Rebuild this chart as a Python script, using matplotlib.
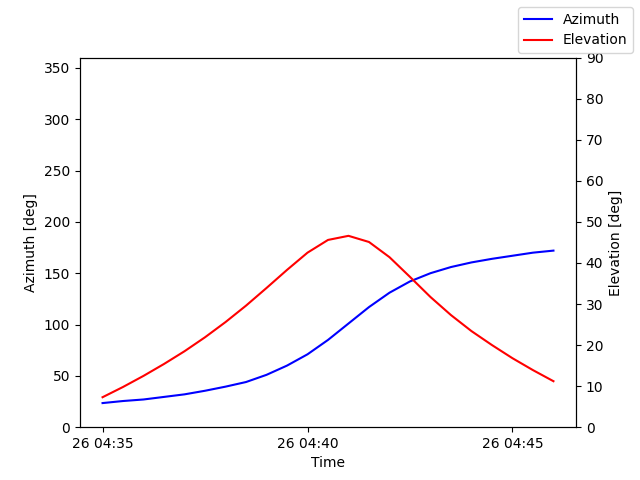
import matplotlib
matplotlib.use("Agg")
import matplotlib.pyplot as plt
import matplotlib.dates as mdates
import pandas as pd

times = pd.date_range("2024-01-26 04:35:00", periods=23, freq="30s")
azimuth = [23.5, 25.5, 27, 29.5, 32, 35.5, 39.5, 44, 51, 60, 71, 85, 101, 117, 131,
           142, 150, 156, 160.5, 164, 167, 170, 172]
elevation = [7.3, 9.8, 12.5, 15.4, 18.5, 21.9, 25.6, 29.6, 33.9, 38.3, 42.5, 45.6, 46.6,
             45.1, 41.4, 36.6, 31.7, 27.3, 23.4, 20.0, 16.8, 13.9, 11.2]

fig, ax = plt.subplots(figsize=(6.4, 4.8), dpi=100)
ax.plot(times, azimuth, color="blue", label="Azimuth")
ax.set_ylim(0, 360)
ax.set_ylabel("Azimuth [deg]")
ax.set_xlabel("Time")
ax2 = ax.twinx()
ax2.plot(times, elevation, color="red", label="Elevation")
ax2.set_ylim(0, 90)
ax2.set_ylabel("Elevation [deg]")
ax.xaxis.set_major_locator(mdates.MinuteLocator(byminute=range(0, 60, 5)))
ax.xaxis.set_major_formatter(mdates.DateFormatter("%d %H:%M"))
fig.legend(loc="upper right")
fig.savefig("out.png")
